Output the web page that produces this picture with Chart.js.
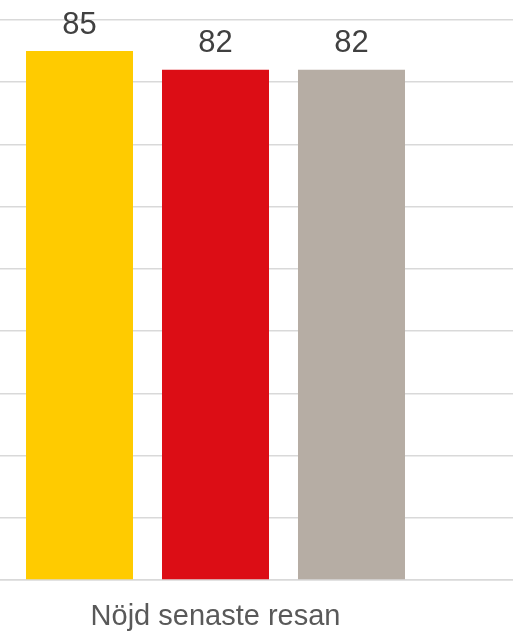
<!DOCTYPE html>
<html>
<head>
<meta charset="utf-8">
<script src="https://cdn.jsdelivr.net/npm/chart.js@4/dist/chart.umd.min.js"></script>
<style>
html,body{margin:0;padding:0;background:#fff;overflow:hidden;}
#wrap{width:513px;height:631px;position:relative;overflow:hidden;}
#c{position:absolute;left:-82px;top:0;}
</style>
</head>
<body>
<div id="wrap"><canvas id="c" width="595" height="631" style="width:595px;height:631px"></canvas></div>
<script>
const categories = ['Nöjd senaste resan'];
const seriesNames = ['Serie 1', 'Serie 2', 'Serie 3'];
const seriesValues = [[85], [82], [82]];
const seriesColors = ['#FFCB00', '#DC0D15', '#B6ADA4'];
const yTicks = [0, 10, 20, 30, 40, 50, 60, 70, 80, 90];

const valueLabels = {
  id: 'valueLabels',
  afterDatasetsDraw(chart) {
    const ctx = chart.ctx;
    ctx.save();
    ctx.font = '31px "Liberation Sans", Arial, sans-serif';
    ctx.fillStyle = '#404040';
    ctx.textAlign = 'center';
    ctx.textBaseline = 'alphabetic';
    chart.data.datasets.forEach((ds, i) => {
      const meta = chart.getDatasetMeta(i);
      meta.data.forEach((bar, j) => {
        ctx.fillText(String(ds.data[j]), bar.x, bar.y - 17.5);
      });
    });
    ctx.restore();
  }
};

new Chart(document.getElementById('c'), {
  type: 'bar',
  data: {
    labels: categories,
    datasets: seriesNames.map((n, i) => ({
      label: n,
      data: seriesValues[i],
      backgroundColor: seriesColors[i],
      borderWidth: 0,
      categoryPercentage: 0.6857,
      barPercentage: 0.7868
    }))
  },
  options: {
    responsive: false,
    animation: false,
    devicePixelRatio: 1,
    layout: { padding: { left: 0, right: 0, top: 20, bottom: 0 } },
    plugins: { legend: { display: false }, tooltip: { enabled: false } },
    scales: {
      x: {
        afterFit(scale) { scale.height = 51; },
        grid: { display: false, drawTicks: false },
        border: { display: true, color: '#d9d9d9', width: 1.5 },
        ticks: {
          padding: 20,
          color: '#595959',
          font: { family: '"Liberation Sans", Arial, sans-serif', size: 29 }
        }
      },
      y: {
        min: 0,
        max: 90,
        afterBuildTicks(scale) { scale.ticks = yTicks.map(v => ({ value: v })); },
        ticks: { display: false },
        grid: { color: '#d9d9d9', lineWidth: 1.5, drawTicks: false },
        border: { display: false }
      }
    }
  },
  plugins: [valueLabels]
});
</script>
</body>
</html>
